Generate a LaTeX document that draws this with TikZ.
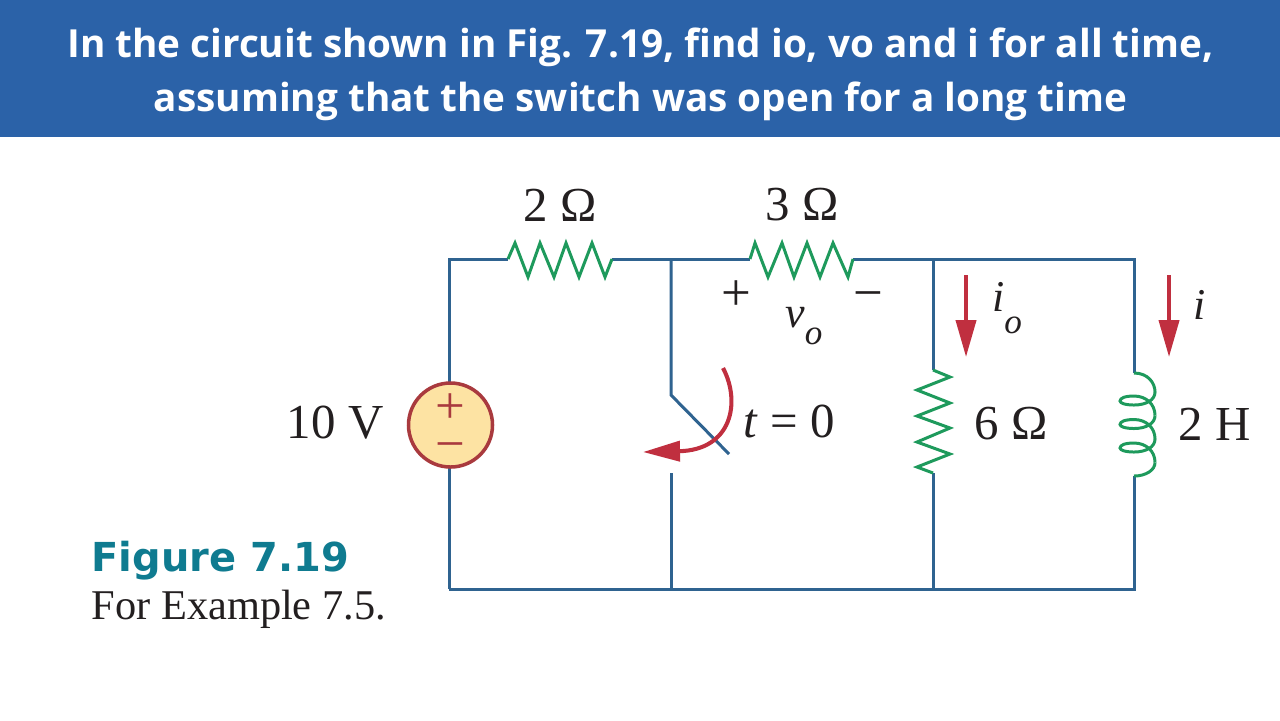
\documentclass[tikz,border=0pt]{standalone}
\usepackage{fontspec}
\usepackage{xcolor}
\setmainfont{Liberation Serif}
\newfontfamily\headfont{Open Sans}
\newfontfamily\figfont{DejaVu Sans}
\usetikzlibrary{arrows.meta}
\definecolor{banner}{HTML}{2B62A8}
\definecolor{wire}{HTML}{2F6390}
\definecolor{elem}{HTML}{1E9A5C}
\definecolor{cur}{HTML}{C02F3F}
\definecolor{srcfill}{HTML}{FDE3A3}
\definecolor{srcline}{HTML}{A93A3E}
\definecolor{teal}{HTML}{0F7B90}
\definecolor{ink}{HTML}{231F20}
\tikzset{
  wr/.style={draw=wire, line width=0.85pt},
  res/.style={draw=elem, line width=0.85pt, line join=miter},
  ind/.style={draw=elem, line width=0.85pt},
  curarrow/.style={draw=cur, line width=1.15pt, -{Triangle[length=37*0.01cm,width=20*0.01cm]}},
  lab/.style={text=ink, font=\fontsize{13.9}{16}\selectfont, inner sep=0pt},
  sym/.style={text=ink, font=\fontsize{15}{18}\selectfont, inner sep=0pt},
  title/.style={text=white, font=\headfont\bfseries\fontsize{11}{15.4}\selectfont, align=center, inner sep=0pt},
}
\begin{document}
\begin{tikzpicture}[x=0.01cm,y=-0.01cm]
  \useasboundingbox (0,0) rectangle (1280,720);
  \fill[white] (0,0) rectangle (1280,720);
  \fill[banner] (0,0) rectangle (1280,137);
  \node[title] (head) at (640.5,74) {In the circuit shown in Fig. 7.19, find io, vo and i for all time,\\assuming that the switch was open for a long time};

  % corners and junctions
  \coordinate (TL) at (449,259);
  \coordinate (BL) at (449,589);
  \coordinate (TS) at (671,259);
  \coordinate (BS) at (671,589);
  \coordinate (TR) at (933,259);
  \coordinate (BR) at (933,589);
  \coordinate (TI) at (1134,259);
  \coordinate (BI) at (1134,589);

  % wires
  \coordinate (Ra) at (508,259);
  \coordinate (Rb) at (612,259);
  \coordinate (Rc) at (750,259);
  \coordinate (Rd) at (853,259);
  \coordinate (Re) at (933,370);
  \coordinate (Rf) at (933,473);
  \coordinate (La) at (1134,373);
  \coordinate (Lb) at (1134,476);
  \draw[wr] (BL)--(TL)--(Ra);
  \draw[wr] (BL)--(BI)--(Lb);
  \draw[wr] (Rf)--(BR);
  \draw[wr] (Rb)--(Rc);
  \draw[wr] (Rd)--(TI)--(La);
  \draw[wr] (TR)--(Re);

  \node[circle, draw=srcline, fill=srcfill, line width=1pt, minimum size=84*0.01cm, inner sep=0pt] (src) at (450.5,425) {};
  \node[text=srcline, font=\fontsize{15}{10.8}\selectfont, align=center, inner sep=0pt] (srcsign) at (450.5,428) {+\\−};

  % 2 ohm
  \draw[res] (Ra)--(515,243)--(528,277)--(540,243)--(554,277)--(566,243)--(579,277)--(592,243)--(605,277)--(Rb);
  % 3 ohm
  \draw[res] (Rc)--(755,243)--(768,277)--(782,243)--(794,277)--(807,243)--(820,277)--(833,243)--(848,277)--(Rd);
  % 6 ohm
  \draw[res] (Re)--(950,377)--(917,390)--(950,403)--(917,416)--(950,428)--(917,442)--(950,454)--(917,467)--(Rf);
  % 2 H
  \draw[ind] (La) .. controls (1148,373) and (1155,383) .. (1155,392);
  \foreach \d in {0,23.5,47} {
    \draw[ind] (1155,392+\d) .. controls (1155,400+\d) and (1146,405+\d) .. (1134,405+\d)
      .. controls (1125,405+\d) and (1120,403+\d) .. (1120,401+\d)
      .. controls (1120,398+\d) and (1125,396+\d) .. (1134,396+\d)
      .. controls (1146,396+\d) and (1155,404+\d) .. (1155,415.5+\d);
  }
  \draw[ind] (1155,462.5) .. controls (1155,470) and (1146,476) .. (Lb);

  % switch
  \coordinate (Sa) at (671,395);
  \coordinate (Sb) at (729,454);
  \coordinate (Sc) at (671,473);
  \draw[wr] (TS)--(Sa)--(Sb);
  \draw[wr] (Sc)--(BS);
  \draw[curarrow] (723,368) .. controls (741,402) and (732,450) .. (643,452);

  % current arrows
  \draw[curarrow] (966,275)--(966,357);
  \draw[curarrow] (1169,275)--(1169,357);

  % labels
  \node[lab] (lb2) at (560,205) {2 Ω};
  \node[lab] (lb3) at (802,205) {3 Ω};
  \node[lab, anchor=east] (lb10) at (384,423) {10 V};
  \node[lab] (lbt) at (789,421) {\textit{t} = 0};
  \node[lab, anchor=west] (lb6) at (974,424) {6 Ω};
  \node[lab, anchor=west] (lbH) at (1178,424) {2 H};
  \node[sym] (plus) at (736,296) {+};
  \node[sym] (minus) at (868,301) {−};
  \node[lab, font=\fontsize{12.5}{15}\selectfont] (vo) at (804,326) {\textit{v}\raisebox{-0.8ex}{\fontsize{10}{12}\selectfont\textit{o}}};
  \node[lab, font=\fontsize{12.5}{15}\selectfont] (io) at (1007,308) {\textit{i}\raisebox{-1.1ex}{\fontsize{10}{12}\selectfont\textit{o}}};
  \node[lab, font=\fontsize{12.5}{15}\selectfont] (ii) at (1200,305) {\textit{i}};
  \node[anchor=west, text=teal, inner sep=0pt, font=\figfont\bfseries\fontsize{11.35}{14}\selectfont] (figt) at (91,561) {Figure 7.19};
  \node[anchor=west, text=ink, inner sep=0pt, font=\fontsize{12.05}{14}\selectfont] (figc) at (91,609) {For Example 7.5.};
\end{tikzpicture}
\end{document}
